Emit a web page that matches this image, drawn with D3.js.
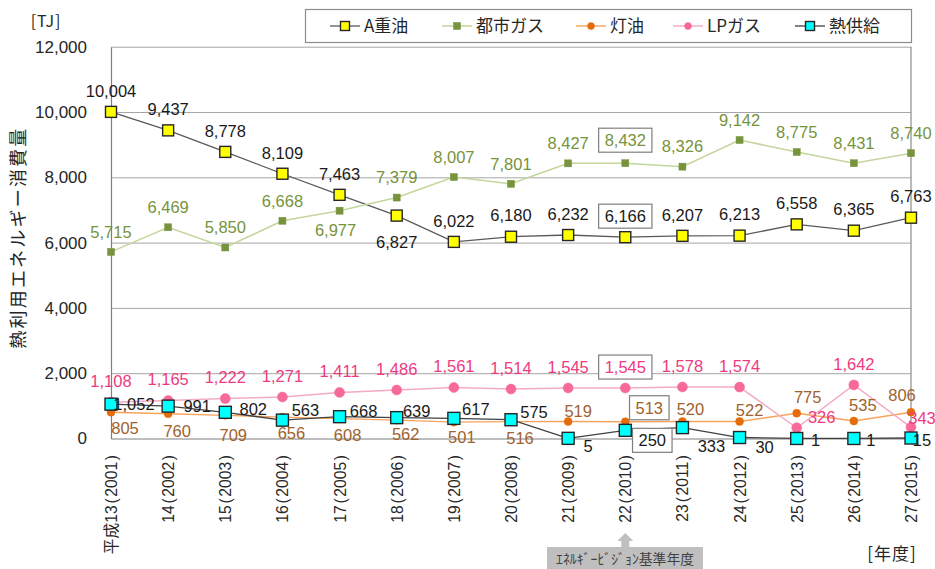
<!DOCTYPE html>
<html lang="ja">
<head>
<meta charset="utf-8">
<script src="https://cdn.jsdelivr.net/npm/d3@7"></script>
<style>
  html, body { margin: 0; padding: 0; background: #fff; }
  svg { display: block; }
  text { font-family: "Liberation Sans", Arial, "Noto Sans CJK JP", sans-serif; }
  .jp { font-family: "Noto Sans CJK JP", "Liberation Sans", sans-serif; }
</style>
</head>
<body>
<svg id="chart" width="935" height="569"></svg>
<script>
// ---- data ----
const categories = [
  "平成13(2001)", "14(2002)", "15(2003)", "16(2004)", "17(2005)",
  "18(2006)", "19(2007)", "20(2008)", "21(2009)", "22(2010)",
  "23(2011)", "24(2012)", "25(2013)", "26(2014)", "27(2015)"
];
const heavyOilA = [10004, 9437, 8778, 8109, 7463, 6827, 6022, 6180, 6232, 6166, 6207, 6213, 6558, 6365, 6763];
const cityGas   = [5715, 6469, 5850, 6668, 6977, 7379, 8007, 7801, 8427, 8432, 8326, 9142, 8775, 8431, 8740];
const kerosene  = [805, 760, 709, 656, 608, 562, 501, 516, 519, 513, 520, 522, 775, 535, 806];
const lpGas     = [1108, 1165, 1222, 1271, 1411, 1486, 1561, 1514, 1545, 1545, 1578, 1574, 326, 1642, 343];
const heatSupply = [1052, 991, 802, 563, 668, 639, 617, 575, 5, 250, 333, 30, 1, 1, 15];
const yTicks = [0, 2000, 4000, 6000, 8000, 10000, 12000];
const seriesNames = ["A重油", "都市ガス", "灯油", "LPガス", "熱供給"];
const baseYearIndex = 9; // 22(2010): boxed values

// label placement relative to each marker, [dx, dy] in px
const offA    = heavyOilA.map((v, i) => i === 5 ? [0, 27] : [0, -21]);
const offCity = cityGas.map((v, i) => i === 4 ? [-4, 20] : (i === 9 ? [0, -23] : [0, -20]));
const offKero = [[14,16],[9,18],[8,20],[9,16],[8,17],[9,14],[8,15],[9,17],
                 [10,-10],[24,-14],[8,-12],[10,-11],[11,-16],[9,-16],[-9,-17]];
const offLp   = lpGas.map((v, i) => i === 12 ? [25, -11] : (i === 14 ? [11, -9] : [0, -21]));
const offHeat = [[23,0],[29,0],[28,-3],[23,-10],[24,-5],[20,-6],[22,-9],[23,-8],
                 [20,8],[27,10],[29,19],[25,10],[19,2],[17,2],[11,2]];

// ---- layout ----
const svg = d3.select("#chart");
const plot = { left: 111, right: 911, top: 46.7, bottom: 438.5 };

const x = d3.scalePoint().domain(categories).range([plot.left, plot.right]).padding(0);
const y = d3.scaleLinear().domain([0, 12000]).range([plot.bottom, plot.top]);

// gridlines
svg.append("g")
  .attr("transform", `translate(${plot.left},0)`)
  .call(d3.axisLeft(y).tickValues(yTicks.slice(1)).tickSize(-(plot.right - plot.left)).tickFormat(""))
  .call(g => g.select(".domain").remove())
  .call(g => g.selectAll("line").attr("stroke", "#a6a6a6").attr("stroke-width", 1));

// right border of plot area
svg.append("line")
  .attr("x1", plot.right).attr("x2", plot.right)
  .attr("y1", y(12000)).attr("y2", y(0))
  .attr("stroke", "#8c8c8c").attr("stroke-width", 1.2);

// y axis
svg.append("g")
  .attr("transform", `translate(${plot.left},0)`)
  .call(d3.axisLeft(y).tickValues(yTicks).tickSize(0).tickPadding(24).tickFormat(d3.format(",")))
  .call(g => g.select(".domain").attr("stroke", "#7f7f7f").attr("stroke-width", 1.2))
  .call(g => g.selectAll("text").attr("font-size", 17).attr("fill", "#262626"));

// x axis: rotated year labels, with a little air around the parentheses
svg.append("g")
  .attr("transform", `translate(0,${plot.bottom})`)
  .call(d3.axisBottom(x).tickSize(0).tickPadding(0))
  .call(g => g.select(".domain").attr("stroke", "#7f7f7f").attr("stroke-width", 1.2))
  .call(g => g.selectAll(".tick text")
    .attr("font-size", 15.7)
    .attr("fill", "#262626")
    .attr("text-anchor", "end")
    .attr("transform", "translate(0,16.5) rotate(-90)")
    .attr("x", 0).attr("y", 0).attr("dy", "0.35em")
    .each(function(d) {
      const m = d.match(/^(.*)\((\d+)\)$/);
      const t = d3.select(this).text(null);
      t.append("tspan").text(m[1]);
      t.append("tspan").attr("dx", 2).text("(");
      t.append("tspan").attr("dx", 1.5).text(m[2]);
      t.append("tspan").attr("dx", 1.5).text(")");
    }));

// axis titles
svg.append("text").attr("class", "jp")
  .attr("x", 46).attr("y", 21).attr("text-anchor", "middle").attr("dy", "0.35em")
  .attr("font-size", 16).attr("letter-spacing", 1).attr("fill", "#262626").text("[TJ]");

svg.append("text").attr("class", "jp")
  .attr("transform", `translate(19,${(plot.top + plot.bottom) / 2 - 5}) rotate(-90)`)
  .attr("text-anchor", "middle").attr("dy", "0.35em")
  .attr("font-size", 18).attr("letter-spacing", 2.2).attr("fill", "#262626")
  .text("熱利用エネルギー消費量");

svg.append("text").attr("class", "jp")
  .attr("x", 892).attr("y", 554).attr("text-anchor", "middle").attr("dy", "0.35em")
  .attr("font-size", 17).attr("letter-spacing", 1).attr("fill", "#262626").text("[年度]");

// ---- series ----
const series = [
  { name: seriesNames[0], values: heavyOilA, off: offA, line: "#595959", lineW: 1.3,
    shape: "square", size: 11, fill: "#ffff00", stroke: "#262626", strokeW: 1.4, label: "#1a1a1a" },
  { name: seriesNames[1], values: cityGas, off: offCity, line: "#c3d69b", lineW: 1.5,
    shape: "square", size: 7, fill: "#77933c", stroke: "#77933c", strokeW: 0.5, label: "#77933c" },
  { name: seriesNames[2], values: kerosene, off: offKero, line: "#f7a35c", lineW: 1.4,
    shape: "circle", size: 8, fill: "#e46c0a", stroke: "#e46c0a", strokeW: 0.5, label: "#a0622d" },
  { name: seriesNames[3], values: lpGas, off: offLp, line: "#f5abc5", lineW: 1.5,
    shape: "circle", size: 10, fill: "#f7699a", stroke: "#f7699a", strokeW: 0.5, label: "#ee3a80" },
  { name: seriesNames[4], values: heatSupply, off: offHeat, line: "#404040", lineW: 1.3,
    shape: "square", size: 12, fill: "#00ffff", stroke: "#262626", strokeW: 1.4, label: "#1a1a1a" }
];

const lineGen = d3.line().x((d, i) => x(categories[i])).y(d => y(d));

function drawMarker(g, s, cx, cy) {
  if (s.shape === "square") {
    g.append("rect")
      .attr("x", cx - s.size / 2).attr("y", cy - s.size / 2)
      .attr("width", s.size).attr("height", s.size)
      .attr("fill", s.fill).attr("stroke", s.stroke).attr("stroke-width", s.strokeW);
  } else {
    g.append("circle")
      .attr("cx", cx).attr("cy", cy).attr("r", s.size / 2)
      .attr("fill", s.fill).attr("stroke", s.stroke).attr("stroke-width", s.strokeW);
  }
}

const marksLayer = svg.append("g");
series.forEach(s => {
  const g = marksLayer.append("g");
  g.append("path").datum(s.values)
    .attr("d", lineGen).attr("fill", "none")
    .attr("stroke", s.line).attr("stroke-width", s.lineW);
  s.values.forEach((v, i) => drawMarker(g, s, x(categories[i]), y(v)));
});

// value labels
const fmt = d3.format(",");
const labelLayer = svg.append("g");
series.forEach(s => {
  s.values.forEach((v, i) => {
    const lx = x(categories[i]) + s.off[i][0];
    const ly = y(v) + s.off[i][1];
    const t = labelLayer.append("text")
      .attr("x", lx).attr("y", ly).attr("dy", "0.35em")
      .attr("text-anchor", "middle")
      .attr("font-size", 16.5).attr("fill", s.label)
      .text(fmt(v));
    if (i === baseYearIndex) {
      const bb = t.node().getBBox();
      labelLayer.insert("rect", () => t.node())
        .attr("x", bb.x - 6).attr("y", ly - 12)
        .attr("width", bb.width + 12).attr("height", 24)
        .attr("fill", "#fff").attr("stroke", "#7f7f7f").attr("stroke-width", 1.2);
    }
  });
});

// ---- legend ----
const legend = svg.append("g");
legend.append("rect")
  .attr("x", 305.5).attr("y", 9.5).attr("width", 606).attr("height", 33)
  .attr("fill", "#fff").attr("stroke", "#8c8c8c").attr("stroke-width", 1.2);
const legendX = [345, 457, 591, 688, 810];
series.forEach((s, i) => {
  const cx = legendX[i], cy = 26;
  legend.append("line")
    .attr("x1", cx - 15).attr("x2", cx + 15).attr("y1", cy).attr("y2", cy)
    .attr("stroke", s.line).attr("stroke-width", s.lineW);
  const ms = Object.assign({}, s, { size: s.shape === "square" ? Math.min(s.size, 9) : 7 });
  drawMarker(legend, ms, cx, cy);
  legend.append("text").attr("class", "jp")
    .attr("x", cx + 19).attr("y", cy).attr("dy", "0.35em")
    .attr("font-size", 17).attr("fill", "#262626")
    .text(s.name);
});

// ---- base-year callout ----
const bx = x(categories[baseYearIndex]);
const callout = svg.append("g");
callout.append("path")
  .attr("d", `M${bx},533 L${bx + 8},541 L${bx + 4},541 L${bx + 4},548 L${bx - 4},548 L${bx - 4},541 L${bx - 8},541 Z`)
  .attr("fill", "#bfbfbf");
callout.append("rect")
  .attr("x", 547).attr("y", 547).attr("width", 156).attr("height", 24)
  .attr("fill", "#bfbfbf");
callout.append("text").attr("class", "jp")
  .attr("x", 625).attr("y", 559).attr("dy", "0.35em").attr("text-anchor", "middle")
  .attr("font-size", 13.8).attr("fill", "#404040")
  .text("ｴﾈﾙｷﾞｰﾋﾞｼﾞｮﾝ基準年度");
</script>
</body>
</html>
